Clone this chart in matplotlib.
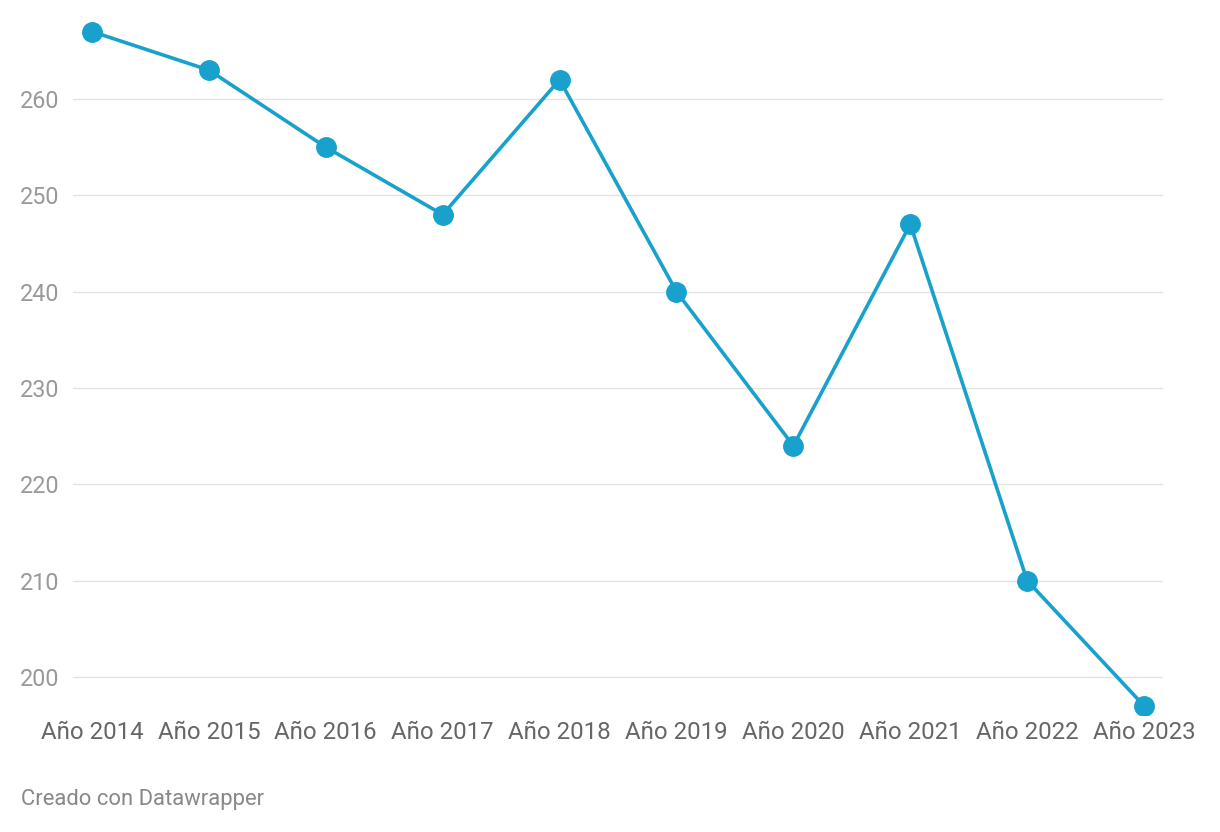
import matplotlib
matplotlib.use("Agg")
import matplotlib.pyplot as plt

years = ["Año 2014", "Año 2015", "Año 2016", "Año 2017", "Año 2018",
         "Año 2019", "Año 2020", "Año 2021", "Año 2022", "Año 2023"]
values = [267, 263, 255, 248, 262, 240, 224, 247, 210, 197]
yticks = [200, 210, 220, 230, 240, 250, 260]

plt.rcParams['font.family'] = ['Roboto', 'DejaVu Sans']

W, H = 1220, 832
fig = plt.figure(figsize=(W / 100, H / 100), dpi=100)
left_px, right_px = 73, 1163
top_px, bottom_px = 15, 715
ax = fig.add_axes([left_px / W, (H - bottom_px) / H,
                   (right_px - left_px) / W, (bottom_px - top_px) / H])

x = list(range(len(years)))
ax.plot(x, values, color="#18a1cd", lw=2.6, marker="o", markersize=14,
        zorder=3, solid_capstyle="round")

ax.set_xlim(-0.1625, 9.1617)
ax.set_ylim(196.055, 268.72)
ax.set_yticks(yticks)
ax.set_yticklabels([str(t) for t in yticks])
ax.set_xticks(x)
ax.set_xticklabels(years)
ax.grid(axis="y", color="#e2e2e2", lw=1.0, zorder=0)
ax.grid(axis="x", visible=False)
for s in ax.spines.values():
    s.set_visible(False)
ax.tick_params(axis="y", length=0, pad=9.5, labelsize=16.8, labelcolor="#999999")
ax.tick_params(axis="x", length=0, pad=4, labelsize=17.3, labelcolor="#666666")

fig.text(21 / W, 1 - 799 / H, "Creado con Datawrapper", fontsize=15.8,
         color="#888888", ha="left", va="center")

fig.savefig("out.png", dpi=100, facecolor="white")
